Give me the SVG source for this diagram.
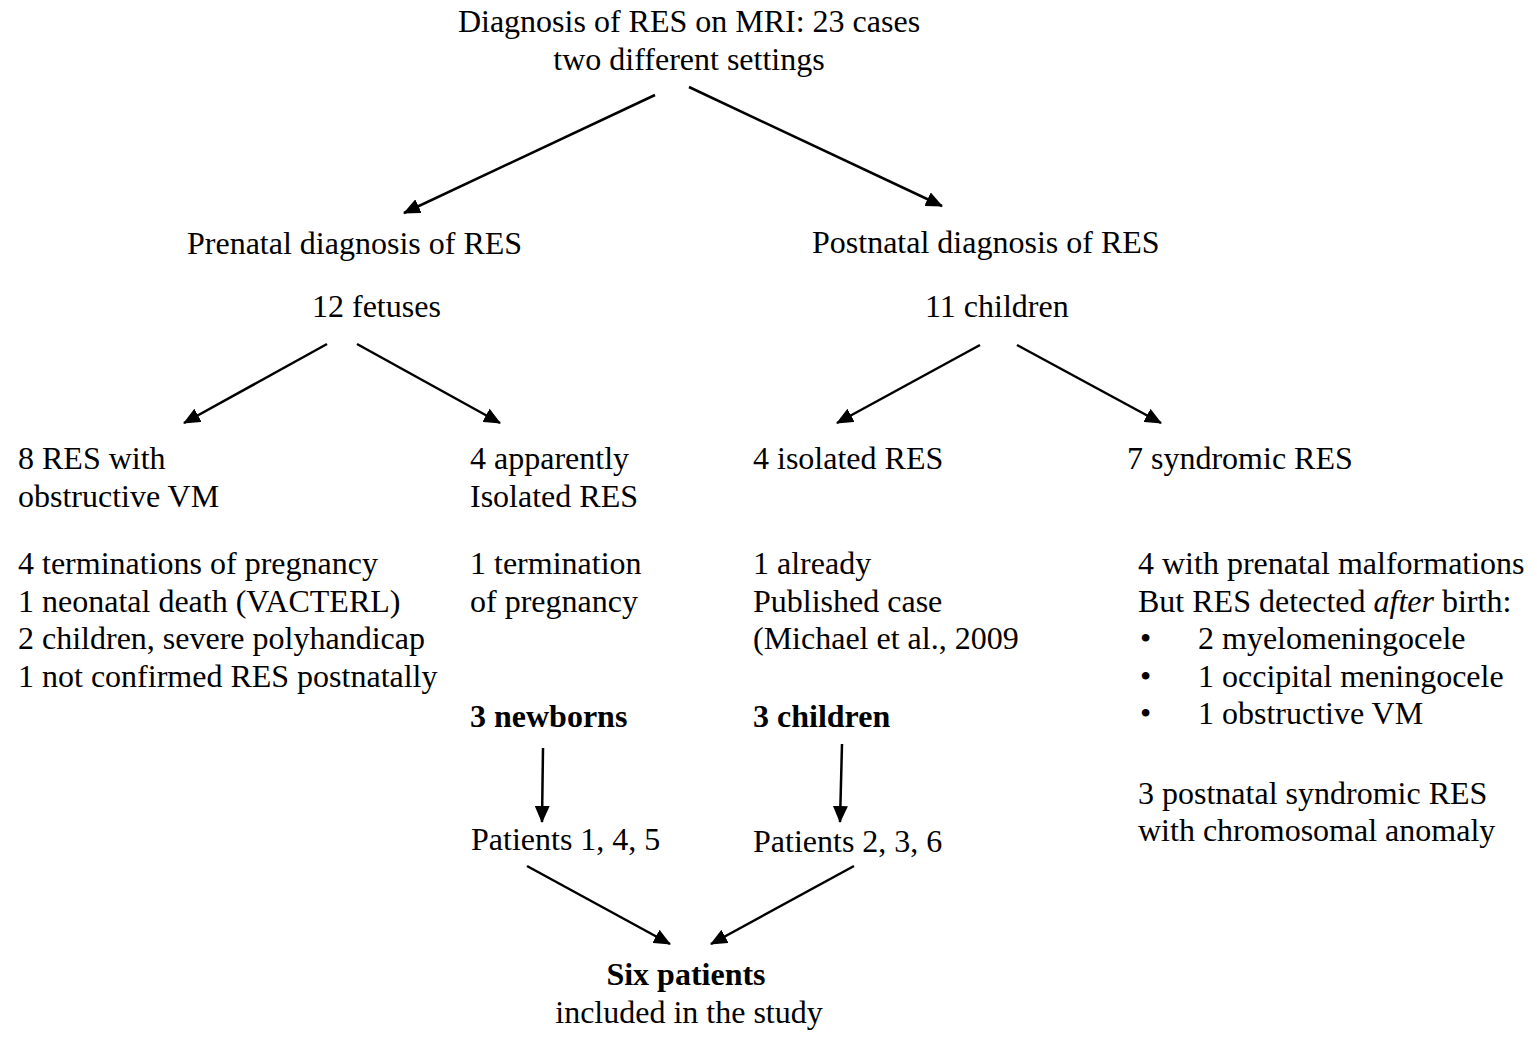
<svg xmlns="http://www.w3.org/2000/svg" width="1537" height="1037" viewBox="0 0 1537 1037">
<style>
text { font-family: "Liberation Serif", "Times New Roman", serif; font-size: 32px; fill: #000; }
.c { text-anchor: middle; }
.b { font-weight: bold; }
.conn line { stroke: #000; stroke-width: 2.5; fill: none; marker-end: url(#ah); }
</style>
<defs>
<marker id="ah" viewBox="0 0 17 15" refX="16" refY="7.5" markerWidth="17" markerHeight="15" markerUnits="userSpaceOnUse" orient="auto">
<path d="M0,0 L17,7.5 L0,15 z" fill="#000"/>
</marker>
</defs>
<rect width="1537" height="1037" fill="#fff"/>

<g id="root">
<text class="c" x="689" y="32">Diagnosis of RES on MRI: 23 cases</text>
<text class="c" x="689" y="70">two different settings</text>
</g>
<g id="prenatal">
<text x="187" y="254">Prenatal diagnosis of RES</text>
<text x="312" y="317">12 fetuses</text>
</g>
<g id="postnatal">
<text x="812" y="253">Postnatal diagnosis of RES</text>
<text x="925" y="317">11 children</text>
</g>
<g id="obstructive">
<text x="18" y="469">8 RES with</text>
<text x="18" y="507">obstructive VM</text>
<text x="18" y="574">4 terminations of pregnancy</text>
<text x="18" y="611.5">1 neonatal death (VACTERL)</text>
<text x="18" y="649">2 children, severe polyhandicap</text>
<text x="18" y="686.5">1 not confirmed RES postnatally</text>
</g>
<g id="apparently-isolated">
<text x="470" y="469">4 apparently</text>
<text x="470" y="507">Isolated RES</text>
<text x="470" y="574">1 termination</text>
<text x="470" y="611.5">of pregnancy</text>
<text class="b" x="470" y="727">3 newborns</text>
</g>
<g id="isolated">
<text x="753" y="469">4 isolated RES</text>
<text x="753" y="574">1 already</text>
<text x="753" y="611.5">Published case</text>
<text x="753" y="649">(Michael et al., 2009</text>
<text class="b" x="753" y="727">3 children</text>
</g>
<g id="syndromic">
<text x="1127" y="469">7 syndromic RES</text>
<text x="1138" y="574">4 with prenatal malformations</text>
<text x="1138" y="611.5">But RES detected <tspan font-style="italic">after</tspan> birth:</text>
<text x="1140" y="649">•</text><text x="1198" y="649">2 myelomeningocele</text>
<text x="1140" y="686.5">•</text><text x="1198" y="686.5">1 occipital meningocele</text>
<text x="1140" y="724">•</text><text x="1198" y="724">1 obstructive VM</text>
<text x="1138" y="804">3 postnatal syndromic RES</text>
<text x="1138" y="841">with chromosomal anomaly</text>
</g>
<g id="patients-145">
<text x="471" y="850">Patients 1, 4, 5</text>
</g>
<g id="patients-236">
<text x="753" y="852">Patients 2, 3, 6</text>
</g>
<g id="six-patients">
<text class="c b" x="686" y="985">Six patients</text>
<text class="c" x="689" y="1023">included in the study</text>
</g>

<g id="connectors" class="conn">
<line x1="655" y1="95" x2="404" y2="213"/>
<line x1="689" y1="87" x2="942" y2="206"/>
<line x1="327" y1="344" x2="184" y2="423"/>
<line x1="357" y1="344" x2="500" y2="423"/>
<line x1="980" y1="345" x2="837" y2="423"/>
<line x1="1017" y1="345" x2="1161" y2="423"/>
<line x1="543" y1="748" x2="542" y2="822"/>
<line x1="842" y1="744" x2="840" y2="822"/>
<line x1="527" y1="866" x2="670" y2="944"/>
<line x1="854" y1="866" x2="711" y2="944"/>
</g>
</svg>
